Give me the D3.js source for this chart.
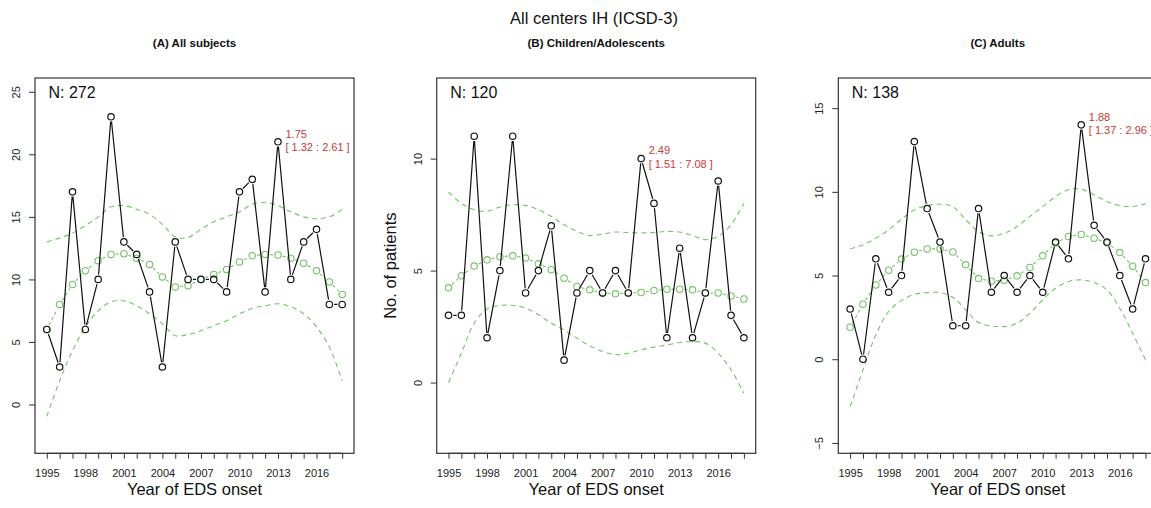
<!DOCTYPE html>
<html>
<head>
<meta charset="utf-8">
<script src="https://cdn.jsdelivr.net/npm/d3@7/dist/d3.min.js"></script>
<style>
  body { margin: 0; background: #fff; }
  svg text { font-family: "Liberation Sans", Arial, Helvetica, sans-serif; }
</style>
</head>
<body>
<div id="chart"></div>
<script>
var years = [1995, 1996, 1997, 1998, 1999, 2000, 2001, 2002, 2003, 2004, 2005, 2006,
  2007, 2008, 2009, 2010, 2011, 2012, 2013, 2014, 2015, 2016, 2017, 2018];
var yearLabels = [1995, 1998, 2001, 2004, 2007, 2010, 2013, 2016];

// (A) all subjects
var allCounts = [6, 3, 17, 6, 10, 23, 13, 12, 9, 3, 13, 10, 10, 10, 9, 17, 18, 9, 21, 10, 13, 14, 8, 8];
var allFit = [6.0, 8.0, 9.6, 10.7, 11.5, 12.0, 12.05, 11.7, 11.2, 10.2, 9.4, 9.5, 10.0, 10.4, 10.8, 11.4, 11.9, 12.0, 11.95, 11.7, 11.3, 10.7, 9.8, 8.8];
var allUpper = [13.0, 13.3, 13.7, 14.3, 15.0, 15.8, 15.9, 15.6, 15.2, 14.4, 13.4, 13.35, 14.0, 14.6, 15.0, 15.4, 16.0, 16.15, 15.9, 15.4, 15.0, 14.85, 15.0, 15.6];
var allLower = [-0.95, 1.9, 4.3, 6.2, 7.5, 8.2, 8.3, 7.9, 7.25, 6.45, 5.5, 5.6, 5.9, 6.3, 6.7, 7.25, 7.7, 7.9, 8.05, 7.8, 7.25, 6.2, 4.6, 1.9];

// (B) children / adolescents
var childCounts = [3, 3, 11, 2, 5, 11, 4, 5, 7, 1, 4, 5, 4, 5, 4, 10, 8, 2, 6, 2, 4, 9, 3, 2];
var childFit = [4.23, 4.77, 5.2, 5.48, 5.62, 5.66, 5.56, 5.3, 5.04, 4.66, 4.29, 4.14, 4.0, 3.96, 4.0, 4.02, 4.11, 4.17, 4.17, 4.14, 4.0, 4.0, 3.87, 3.73];
var childUpper = [8.5, 8.0, 7.72, 7.65, 7.84, 7.94, 7.91, 7.72, 7.42, 7.05, 6.75, 6.56, 6.63, 6.72, 6.7, 6.68, 6.7, 6.75, 6.72, 6.56, 6.38, 6.53, 7.05, 8.0];
var childLower = [0.0, 1.31, 2.65, 3.28, 3.44, 3.44, 3.32, 3.03, 2.65, 2.35, 1.98, 1.64, 1.39, 1.24, 1.31, 1.46, 1.58, 1.68, 1.79, 1.83, 1.76, 1.31, 0.57, -0.48];

// (C) adults
var adultCounts = [3, 0, 6, 4, 5, 13, 9, 7, 2, 2, 9, 4, 5, 4, 5, 4, 7, 6, 14, 8, 7, 5, 3, 6];
var adultFit = [1.91, 3.29, 4.44, 5.32, 5.98, 6.39, 6.59, 6.59, 6.41, 5.64, 4.82, 4.66, 4.72, 4.98, 5.48, 6.18, 6.95, 7.33, 7.45, 7.23, 6.95, 6.37, 5.56, 4.58];
var adultUpper = [6.59, 6.83, 7.23, 7.73, 8.37, 8.92, 9.18, 9.26, 9.12, 8.33, 7.63, 7.37, 7.53, 7.93, 8.53, 9.12, 9.72, 10.12, 10.16, 9.82, 9.42, 9.18, 9.12, 9.28];
var adultLower = [-2.83, -0.64, 1.45, 2.85, 3.5, 3.88, 3.98, 3.98, 3.7, 2.95, 2.19, 1.99, 1.95, 2.15, 2.75, 3.55, 4.24, 4.64, 4.74, 4.58, 4.14, 3.05, 1.55, -0.04];

var panelTitles = ["(A) All subjects", "(B) Children/Adolescents", "(C) Adults"];
var panelN = [272, 120, 138];
var yLimits = [[-3.9, 26.1], [-3.16, 13.6], [-5.62, 16.8]];
var yTickValues = [[0, 5, 10, 15, 20, 25], [0, 5, 10], [-5, 0, 5, 10, 15]];
var peakYear = [2013, 2010, 2013];
var peakRatio = ["1.75", "2.49", "1.88"];
var peakCI = ["[ 1.32 : 2.61 ]", "[ 1.51 : 7.08 ]", "[ 1.37 : 2.96 ]"];

var panels = [
  { counts: allCounts, fit: allFit, upper: allUpper, lower: allLower },
  { counts: childCounts, fit: childFit, upper: childUpper, lower: childLower },
  { counts: adultCounts, fit: adultFit, upper: adultUpper, lower: adultLower }
];

var width = 1151;
var height = 508;
var boxTop = 78;
var boxBottom = 453.3;
var boxWidth = 319;
var panelLeft = [35, 436.7, 838.3];
var green = "#74c267";
var red = "#c43c3c";

var svg = d3.select("#chart")
  .append("svg")
  .attr("width", width)
  .attr("height", height);

svg.append("text")
  .attr("x", 594)
  .attr("y", 18)
  .attr("dy", "0.35em")
  .style("text-anchor", "middle")
  .style("font-size", "16.5px")
  .style("fill", "#111")
  .text("All centers IH (ICSD-3)");

// line segments with gaps round the points, like R type = "b"
function gapPath(pts, gap) {
  var d = "";
  for (var i = 1; i < pts.length; i++) {
    var x0 = pts[i - 1][0], y0 = pts[i - 1][1];
    var x1 = pts[i][0], y1 = pts[i][1];
    var len = Math.sqrt((x1 - x0) * (x1 - x0) + (y1 - y0) * (y1 - y0));
    if (len <= 2 * gap) continue;
    var ux = (x1 - x0) / len, uy = (y1 - y0) / len;
    d += "M" + (x0 + ux * gap) + "," + (y0 + uy * gap) +
      "L" + (x1 - ux * gap) + "," + (y1 - uy * gap);
  }
  return d;
}

panels.forEach(function (p, k) {
  var left = panelLeft[k];

  var x = d3.scaleLinear()
    .domain([1994.08, 2018.92])
    .range([left, left + boxWidth]);

  var y = d3.scaleLinear()
    .domain(yLimits[k])
    .range([boxBottom, boxTop]);

  var g = svg.append("g").attr("class", "panel");

  g.append("text")
    .attr("x", left + boxWidth / 2)
    .attr("y", 43)
    .attr("dy", "0.35em")
    .style("text-anchor", "middle")
    .style("font-size", "11.5px")
    .style("font-weight", "bold")
    .style("fill", "#111")
    .text(panelTitles[k]);

  // axes
  var xAxis = d3.axisBottom(x)
    .tickValues(years)
    .tickSize(5.5)
    .tickSizeOuter(0)
    .tickFormat(d => yearLabels.indexOf(d) >= 0 ? d : "");

  var xg = g.append("g")
    .attr("transform", `translate(0, ${boxBottom})`)
    .call(xAxis);
  xg.select(".domain")
    .attr("d", `M${x(1995)},0H${x(2018)}`)
    .attr("stroke", "#333");
  xg.selectAll(".tick line").attr("stroke", "#333");
  xg.selectAll(".tick text")
    .attr("y", 19.7)
    .attr("dy", "0.35em")
    .style("font-size", "11px")
    .style("font-family", "'Liberation Sans', Arial, sans-serif")
    .style("fill", "#222");

  var yAxis = d3.axisLeft(y)
    .tickValues(yTickValues[k])
    .tickSize(6)
    .tickSizeOuter(0);

  var yg = g.append("g")
    .attr("transform", `translate(${left}, 0)`)
    .call(yAxis);
  yg.select(".domain").remove();
  yg.selectAll(".tick line").attr("stroke", "#333");
  yg.selectAll(".tick text")
    .attr("x", 0)
    .attr("y", 0)
    .attr("dy", "0.35em")
    .attr("transform", "translate(-19,0) rotate(-90)")
    .style("text-anchor", "middle")
    .style("font-size", "11px")
    .style("font-family", "'Liberation Sans', Arial, sans-serif")
    .style("fill", "#222");

  g.append("text")
    .attr("x", left + boxWidth / 2)
    .attr("y", 489)
    .attr("dy", "0.35em")
    .style("text-anchor", "middle")
    .style("font-size", "16.5px")
    .style("fill", "#111")
    .text("Year of EDS onset");

  if (k == 1) {
    g.append("text")
      .attr("transform", `translate(390, ${(boxTop + boxBottom) / 2}) rotate(-90)`)
      .attr("dy", "0.35em")
      .style("text-anchor", "middle")
      .style("font-size", "16.5px")
      .style("fill", "#111")
      .text("No. of patients");
  }

  // confidence band
  var smooth = d3.line()
    .x((d, i) => x(years[i]))
    .y(d => y(d))
    .curve(d3.curveCatmullRom);

  [p.upper, p.lower].forEach(function (band) {
    g.append("path")
      .attr("d", smooth(band))
      .attr("fill", "none")
      .attr("stroke", green)
      .attr("stroke-width", 1.1)
      .attr("stroke-dasharray", "5,4");
  });

  // fitted values
  var fitPts = p.fit.map((d, i) => [x(years[i]), y(d)]);
  g.append("path")
    .attr("d", gapPath(fitPts, 4.8))
    .attr("fill", "none")
    .attr("stroke", green)
    .attr("stroke-width", 1.1)
    .attr("stroke-dasharray", "3,3");

  g.selectAll("circle.fit")
    .data(p.fit)
    .enter()
    .append("circle")
    .attr("class", "fit")
    .attr("cx", (d, i) => x(years[i]))
    .attr("cy", d => y(d))
    .attr("r", 3.2)
    .attr("fill", "none")
    .attr("stroke", green)
    .attr("stroke-width", 1.1);

  // observed counts
  var cntPts = p.counts.map((d, i) => [x(years[i]), y(d)]);
  g.append("path")
    .attr("d", gapPath(cntPts, 4.8))
    .attr("fill", "none")
    .attr("stroke", "#111")
    .attr("stroke-width", 1.2);

  g.selectAll("circle.count")
    .data(p.counts)
    .enter()
    .append("circle")
    .attr("class", "count")
    .attr("cx", (d, i) => x(years[i]))
    .attr("cy", d => y(d))
    .attr("r", 3.2)
    .attr("fill", "none")
    .attr("stroke", "#111")
    .attr("stroke-width", 1.2);

  // peak annotation
  var pi = years.indexOf(peakYear[k]);
  var px = x(peakYear[k]) + 7.5;
  var py = y(p.counts[pi]);
  g.append("text")
    .attr("x", px)
    .attr("y", py - 8)
    .attr("dy", "0.35em")
    .style("font-size", "11px")
    .style("fill", red)
    .text(peakRatio[k]);
  g.append("text")
    .attr("x", px)
    .attr("y", py + 5.5)
    .attr("dy", "0.35em")
    .style("font-size", "11px")
    .style("fill", red)
    .text(peakCI[k]);

  g.append("text")
    .attr("x", left + 13.5)
    .attr("y", 92)
    .attr("dy", "0.35em")
    .style("font-size", "16px")
    .style("fill", "#111")
    .text("N: " + panelN[k]);

  // plot box
  g.append("rect")
    .attr("x", left)
    .attr("y", boxTop)
    .attr("width", boxWidth)
    .attr("height", boxBottom - boxTop)
    .attr("fill", "none")
    .attr("stroke", "#333")
    .attr("stroke-width", 1.2);
});
</script>
</body>
</html>
